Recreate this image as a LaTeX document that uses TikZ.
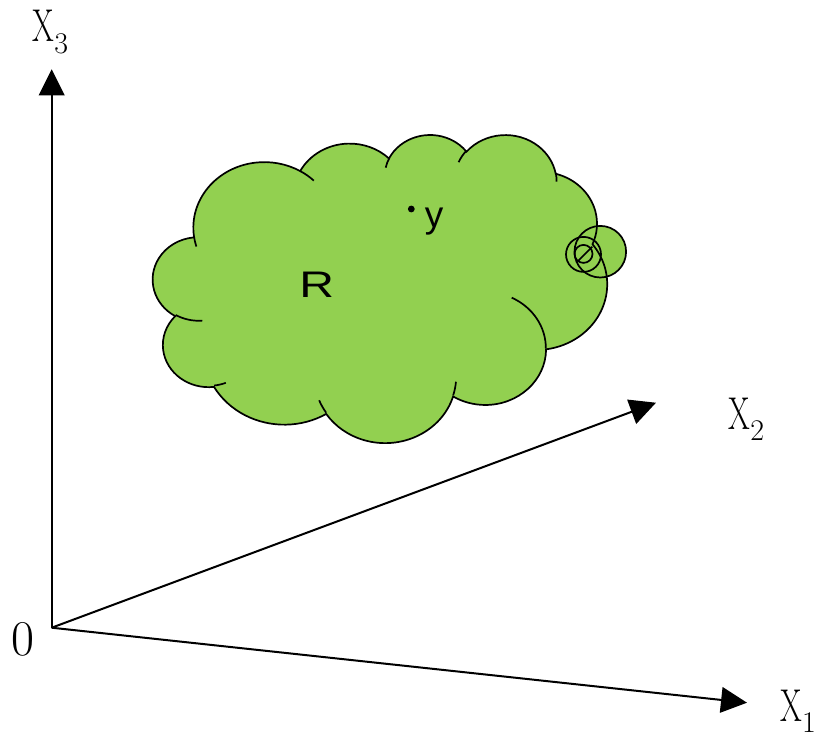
\documentclass[tikz,border=0pt]{standalone}
\usepackage{fontspec}
\usepackage{graphicx}
\usetikzlibrary{arrows.meta}
\newfontfamily\cloudfont{Liberation Sans}
\definecolor{leafgreen}{RGB}{146,208,80}
\newcommand{\axislabel}[1]{\scalebox{0.68}[1]{X}\raisebox{-5.8pt}{\fontsize{15}{15}\selectfont #1}}
\tikzset{
  cloudregion/.style={fill=leafgreen,draw=black,line width=0.85pt},
  cloudstroke/.style={draw=black,line width=0.85pt},
  coordaxis/.style={-{Triangle[length=13pt,width=12.8pt]},line width=1pt},
  axisname/.style={inner sep=0pt,anchor=base west,font=\fontsize{23}{23}\selectfont},
  regionname/.style={inner sep=0pt,anchor=base west,font=\cloudfont\fontsize{18.5}{18.5}\selectfont},
  % arc of the cloud outline, angles as seen on the ellipse
  cloudarc/.style n args={4}{x radius=#1,y radius=#2,
    start angle={atan2(#1*sin(#3),#2*cos(#3))},
    delta angle={mod(atan2(#1*sin(#3+#4),#2*cos(#3+#4))-atan2(#1*sin(#3),#2*cos(#3))+720,360)}}
}
\begin{document}
\begin{tikzpicture}[x=0.5pt,y=-0.5pt]
  \useasboundingbox (0,0) rectangle (817,738);
  % axes
  \coordinate (O) at (51.7,627.7);
  \coordinate (x1tip) at (747,702.7);
  \coordinate (x2tip) at (656,402.7);
  \coordinate (x3tip) at (51.7,69.3);
  \draw[coordaxis] (O) -- (x1tip);
  \draw[coordaxis] (O) -- (x2tip);
  \draw[coordaxis] (O) -- (x3tip);
  \node[axisname] (x1name) at (780,721) {\axislabel{1}};
  \node[axisname] (x2name) at (728.3,429.3) {\axislabel{2}};
  \node[axisname] (x3name) at (32.3,41.7) {\axislabel{3}};
  \node[inner sep=0pt,anchor=base,font=\fontsize{25}{25}\selectfont] (origin) at (22.5,655) {0};
  % the region R
  \fill[leafgreen] (600.3,251.7) circle[radius=25.8];
  \begin{scope}[shift={(153,134)},x=0.525463pt,y=-0.356481pt]
    \path[cloudregion] (39.00,143.70)
      arc[cloudarc={67.53}{91.90}{-190.48748}{123.78053}]
      arc[cloudarc={53.33}{72.67}{-144.10238}{89.94523}]
      arc[cloudarc={43.65}{59.45}{-145.80792}{99.72302}]
      arc[cloudarc={48.57}{65.95}{-130.98607}{117.24173}]
      arc[cloudarc={53.33}{72.73}{-78.70888}{109.02692}]
      arc[cloudarc={67.75}{92.20}{-46.26725}{130.26900}]
      arc[cloudarc={57.85}{78.67}{0.62502}{114.03333}]
      arc[cloudarc={67.52}{92.15}{22.45160}{115.17255}]
      arc[cloudarc={77.20}{105.43}{66.24263}{75.71102}]
      arc[cloudarc={43.60}{59.18}{-274.94208}{146.73557}]
      arc[cloudarc={43.45}{59.45}{-246.82850}{152.51885}] -- cycle;
    \draw[cloudstroke]
      (46.93,261.77) arc[cloudarc={43.45}{59.45}{86.74200}{26.42950}]
      (69.28,348.99) arc[cloudarc={43.60}{59.18}{73.61047}{11.44747}]
      (164.78,390.90) arc[cloudarc={67.52}{92.15}{137.62415}{14.08110}]
      (288.27,347.51) arc[cloudarc={67.52}{92.15}{6.45327}{15.99835}]
      (341.29,229.54) arc[cloudarc={57.85}{78.67}{-70.29235}{70.91737}]
      (383.24,54.26) arc[cloudarc={48.57}{65.95}{-13.74433}{14.85890}]
      (290.78,39.52) arc[cloudarc={48.57}{65.95}{-149.18145}{18.19537}]
      (221.41,47.20) arc[cloudarc={43.65}{59.45}{-163.49427}{17.68635}]
      (140.00,51.92) arc[cloudarc={67.53}{91.90}{-66.70695}{12.31935}]
      (41.27,157.89) arc[cloudarc={67.53}{91.90}{157.65435}{11.85817}];
  \end{scope}
  \draw[cloudstroke] (600.3,251.7) circle[radius=25.8];
  \draw[cloudstroke] (583.5,254.4) circle[radius=17.5]
    (583.5,253.9) circle[radius=9]
    (577.3,261.7) -- (592.3,246.7);
  \node[regionname] (rname) at (299,297.3) {\scalebox{1.3}[1]{R}};
  \coordinate (ypt) at (411.3,209);
  \fill (ypt) circle[radius=3.4];
  \node[regionname] (yname) at (424.5,227.3) {y};
\end{tikzpicture}
\end{document}
